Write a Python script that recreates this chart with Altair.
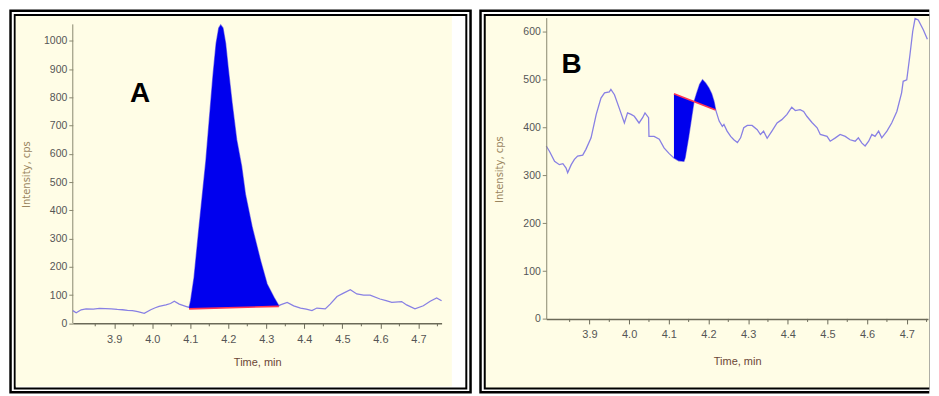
import altair as alt
import pandas as pd

# ---------------- data ----------------
A_t = [3.791, 3.800, 3.813, 3.826, 3.845, 3.861, 3.877, 3.892, 3.908, 3.922, 3.935, 3.948,
       3.962, 3.979, 3.996, 4.008, 4.018, 4.036, 4.048, 4.058, 4.071, 4.088, 4.097, 4.101,
       4.110, 4.123, 4.141, 4.150, 4.160, 4.168, 4.175, 4.180, 4.186, 4.193, 4.200, 4.210,
       4.222, 4.235, 4.245, 4.263, 4.285, 4.302, 4.320, 4.333, 4.337, 4.355, 4.372, 4.390,
       4.405, 4.420, 4.433, 4.455, 4.468, 4.486, 4.503, 4.521, 4.538, 4.556, 4.573, 4.599,
       4.615, 4.630, 4.656, 4.669, 4.691, 4.713, 4.731, 4.748, 4.761]
A_v = [45, 37, 48, 51, 50, 53, 52, 51, 49, 48, 46, 45,
       41, 35, 48, 55, 60, 65, 70, 78, 68, 60, 56, 80,
       162, 339, 574, 720, 880, 990, 1045, 1056, 1045, 990, 900, 780,
       650, 556, 457, 339, 221, 139, 92, 62, 65, 74, 62, 54,
       50, 45, 54, 51, 68, 95, 107, 119, 104, 100, 100, 86,
       80, 74, 77, 65, 51, 62, 78, 90, 80]

B_t = [3.791, 3.799, 3.812, 3.824, 3.833, 3.841, 3.845, 3.854, 3.862, 3.870, 3.883, 3.891,
       3.904, 3.917, 3.929, 3.938, 3.950, 3.954, 3.963, 3.975, 3.988, 3.996, 4.005, 4.013,
       4.025, 4.034, 4.040, 4.049, 4.050, 4.063, 4.076, 4.088, 4.101, 4.113, 4.125, 4.138,
       4.141, 4.150, 4.163, 4.170, 4.178, 4.185, 4.193, 4.201, 4.208, 4.214, 4.218, 4.227,
       4.235, 4.239, 4.247, 4.256, 4.264, 4.273, 4.281, 4.289, 4.298, 4.310, 4.323, 4.331,
       4.339, 4.348, 4.360, 4.373, 4.385, 4.398, 4.410, 4.419, 4.431, 4.440, 4.448, 4.461,
       4.474, 4.482, 4.499, 4.507, 4.520, 4.532, 4.545, 4.557, 4.570, 4.578, 4.587, 4.595,
       4.604, 4.612, 4.620, 4.629, 4.637, 4.650, 4.662, 4.675, 4.687, 4.691, 4.700, 4.708,
       4.715, 4.721, 4.729, 4.742, 4.752]
B_v = [361, 350, 329, 322, 324, 315, 305, 322, 333, 340, 342, 354,
       378, 427, 461, 472, 474, 479, 468, 440, 409, 430, 427, 423,
       409, 420, 430, 420, 381, 381, 375, 357, 345, 336, 330, 329,
       336, 380, 451, 470, 490, 499, 492, 482, 470, 454, 437, 413,
       402, 406, 392, 381, 374, 368, 378, 399, 404, 404, 395, 385,
       392, 377, 392, 409, 416, 427, 442, 435, 437, 433, 423, 410,
       399, 385, 381, 371, 378, 385, 381, 374, 371, 378, 367, 361,
       371, 385, 381, 392, 378, 392, 409, 433, 472, 496, 499, 551,
       600, 627, 624, 603, 584]

A_peak = [4.097, 4.333]      # integration limits
A_base = [51, 60]            # baseline values at the limits
B_peak = [4.113, 4.218]
B_base = [470, 436]

x_ticks = [3.9, 4.0, 4.1, 4.2, 4.3, 4.4, 4.5, 4.6, 4.7]
x_minor = [3.85, 3.95, 4.05, 4.15, 4.25, 4.35, 4.45, 4.55, 4.65, 4.75]
A_y_ticks = [0, 100, 200, 300, 400, 500, 600, 700, 800, 900, 1000]
B_y_ticks = [0, 100, 200, 300, 400, 500, 600]

A_label = {"t": 3.968, "v": 810, "label": "A"}
B_label = {"t": 3.855, "v": 531, "label": "B"}

# ---------------- styling ----------------
CREAM = "#fffde6"
LINE = "#8880e4"
FILL = "#0000ee"
RED = "#ff3355"
AXIS = "#6b6a58"
LFONT = "Liberation Sans"

# decorative frame layers (page pixel boxes: x0, x1, y0, y1, colour)
FRAME_A = [(8, 472, 8, 393, "black"), (10.5, 469.5, 10.5, 390.5, "white"),
           (12.5, 467.5, 12.5, 389, "black"), (14.5, 465.5, 14.5, 387, "white"),
           (14.5, 452, 14.5, 386, CREAM)]
FRAME_B = [(479.5, 931, 8, 393, "black"), (482, 931, 10.5, 390.5, "white"),
           (484, 931, 12.5, 389, "black"), (486, 931, 14.5, 387, CREAM)]
ORIGIN_A = (71.7, 16)
ORIGIN_B = (546.7, 16)


def one(d):
    return alt.Data(values=[d])


def panel(t, v, peak, base, yticks, ydom, xdom, W, H, lab, frame, origin,
          ytitle_y, xtitle_y, yaxis_top=None):
    df = pd.DataFrame({"t": t, "v": v})
    xs = alt.Scale(domain=xdom, nice=False, zero=False)
    ys = alt.Scale(domain=ydom, nice=False)
    X = alt.X("t:Q", scale=xs,
              axis=alt.Axis(values=x_ticks, format=".1f", title="Time, min",
                            grid=False, tickSize=5, labelPadding=5,
                            labelFont=LFONT, labelFontSize=11, labelColor="#555555",
                            domainColor=AXIS, domainWidth=1.5, tickColor=AXIS,
                            titleFont=LFONT, titleFontSize=11, titleFontWeight="normal",
                            titleColor="#6b4636", titleBaseline="middle", titleY=xtitle_y,
                            zindex=1))
    Y = alt.Y("v:Q", scale=ys,
              axis=alt.Axis(values=yticks, format="d", title="Intensity, cps", grid=False,
                            tickSize=4, labelPadding=2,
                            labelFont=LFONT, labelFontSize=10.5, labelColor="#555555",
                            domain=yaxis_top is None, domainColor="#8a8870",
                            tickColor="#8a8870",
                            titleFont="DejaVu Sans", titleFontSize=10,
                            titleFontWeight="normal", titleColor="#9a8560",
                            titleAlign="center", titleBaseline="middle",
                            titleX=-46.7, titleY=ytitle_y, zindex=1))

    layers = []
    ox, oy = origin
    for (x0, x1, y0, y1, col) in frame:
        layers.append(alt.Chart(one({})).mark_rect(color=col, opacity=1).encode(
            x=alt.value(x0 - ox), x2=alt.value(x1 - ox),
            y=alt.value(y0 - oy), y2=alt.value(y1 - oy)))
    # y axis line (custom length)
    if yaxis_top is not None:
        layers.append(alt.Chart(one({"v": 0, "v2": yaxis_top})).mark_rule(
            color="#8a8870", strokeWidth=1).encode(x=alt.value(0), y=Y, y2=alt.Y2("v2:Q")))
    # minor ticks
    layers.append(alt.Chart(pd.DataFrame({"t": x_minor})).transform_filter(
        alt.datum.t <= xdom[1]).mark_rule(color=AXIS, strokeWidth=1).encode(
        x=X, y=alt.value(H), y2=alt.value(H + 3)))
    # trace
    layers.append(alt.Chart(df).mark_line(color=LINE, strokeWidth=1.3).encode(x=X, y=Y))
    # integrated peak
    slope = (base[1] - base[0]) / (peak[1] - peak[0])
    layers.append(alt.Chart(df).transform_filter(
        (alt.datum.t >= peak[0] - 1e-9) & (alt.datum.t <= peak[1] + 1e-9)
    ).transform_calculate(
        base=f"{base[0]} + (datum.t - {peak[0]}) * {slope}"
    ).mark_area(color=FILL, opacity=1, interpolate="linear").encode(
        x=X, y=Y, y2=alt.Y2("base:Q")))
    # baseline
    layers.append(alt.Chart(one({"t": peak[0], "t2": peak[1], "v": base[0], "v2": base[1]}))
                  .mark_rule(color=RED, strokeWidth=1.6).encode(
        x=X, x2=alt.X2("t2:Q"), y=Y, y2=alt.Y2("v2:Q")))
    # letter
    layers.append(alt.Chart(one(lab)).mark_text(
        font=LFONT, fontSize=28, fontWeight="bold", color="black").encode(
        x=X, y=Y, text="label:N"))

    return alt.layer(*layers).properties(width=W, height=H)


A = panel(A_t, A_v, A_peak, A_base, A_y_ticks, [0, 1082], [3.791, 4.761], 370, 306.7,
          A_label, FRAME_A, ORIGIN_A, 157, 39.8, yaxis_top=1058)
B = panel(B_t, B_v, B_peak, B_base, B_y_ticks, [0, 629], [3.791, 4.7536], 383, 302.3,
          B_label, FRAME_B, ORIGIN_B, 152, 43.2)

chart = alt.hconcat(A, B, spacing=105, bounds="flush").properties(
    padding=0, background="white").configure_view(stroke="transparent")

chart.save("out.html", embed_options={"renderer": "svg", "actions": False})
